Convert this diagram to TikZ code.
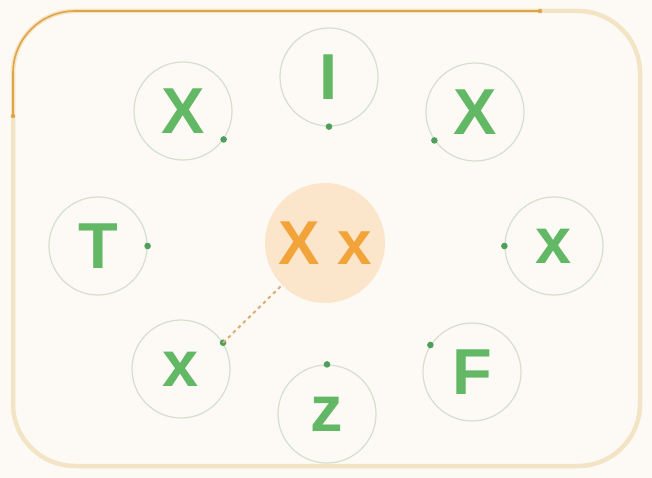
\documentclass[tikz,border=0pt]{standalone}
\usepackage{fontspec}
\setmainfont{Liberation Sans}
\definecolor{bgc}{HTML}{FDFAF5}
\definecolor{framec}{HTML}{F4E4C6}
\definecolor{orangeline}{HTML}{E0A444}
\definecolor{ringc}{HTML}{D4E0CD}
\definecolor{letterc}{HTML}{62B865}
\definecolor{dotc}{HTML}{4E9E5C}
\definecolor{peach}{HTML}{FBE6CC}
\definecolor{orangetext}{HTML}{F2A43A}
\definecolor{dashc}{HTML}{DDAE74}
\begin{document}
\begin{tikzpicture}[x=1pt,y=-1pt,
  ringnode/.style={circle, draw=ringc, line width=1.2pt, minimum size=98pt, inner sep=0pt,
    text=letterc, font=\fontsize{65}{65}\selectfont\bfseries},
  centernode/.style={circle, fill=peach, minimum size=120pt, inner sep=0pt,
    text=orangetext, font=\fontsize{62}{62}\selectfont\bfseries},
  dotmark/.style={fill=dotc},
  endmark/.style={fill=orangeline},
  framestyle/.style={draw=framec, line width=4.5pt, fill=bgc, rounded corners=62pt},
  orangestyle/.style={draw=orangeline, line width=1.6pt, rounded corners=62pt},
  dashstyle/.style={draw=dashc, line width=2pt, dash pattern=on 3.5pt off 3.5pt}]
\fill[bgc] (0,0) rectangle (652,478);
\useasboundingbox (0,0) rectangle (652,478);
\draw[framestyle] (13,11) rectangle (640,466);
\coordinate (oa) at (13,116);
\coordinate (oc) at (13,11);
\coordinate (ob) at (540,11);
\draw[orangestyle] (oa) -- (oc) -- (ob);
\fill[endmark] (oa) circle[radius=2.2pt];
\fill[endmark] (ob) circle[radius=2.2pt];

\node[centernode] (ctr) at (325,243) {X x};

\node[ringnode] (nX1) at (183,111) {X};
\node[ringnode] (nI)  at (329,77)  {I};
\node[ringnode] (nX2) at (475,112) {X};
\node[ringnode] (nT)  at (98,246)  {T};
\node[ringnode] (nx1) at (554,246) {x};
\node[ringnode] (nx2) at (181,369) {x};
\node[ringnode] (nz)  at (327,414) {z};
\node[ringnode] (nF)  at (472,372) {F};

\foreach \n/\a in {nX1/-35, nI/-90, nX2/215, nT/0, nx1/180, nx2/32, nz/90, nF/147}
  \fill[dotmark] (\n.\a) circle[radius=3.3pt];

\draw[dashstyle] (nx2.32) -- (ctr);
\end{tikzpicture}
\end{document}
